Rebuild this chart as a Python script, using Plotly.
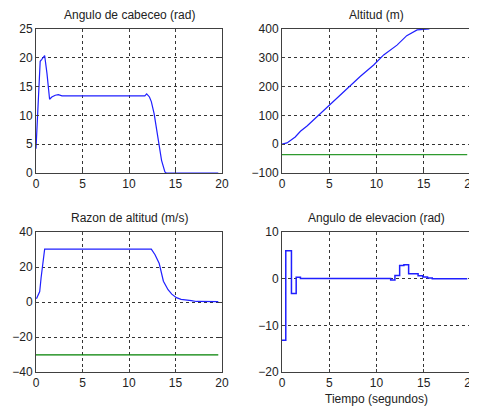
import plotly.graph_objects as go

# ---- data ----
t_pitch = [0, 0.05, 0.1, 0.2, 0.35, 0.45, 0.6, 0.75, 0.93, 1.18, 1.46, 1.7, 2.07, 2.4, 2.8,
           11.7, 11.9, 12.2, 12.4, 12.7, 12.96, 13.25, 13.5, 13.86, 14.0, 19.6]
pitch = [4.2, 6.0, 8.6, 12.8, 16.7, 19.4, 19.7, 20.0, 20.4, 17.3, 12.8, 13.2, 13.5, 13.6, 13.4,
         13.4, 13.75, 13.2, 12.4, 10.3, 7.4, 4.5, 2.2, 0.2, 0.0, 0.0]

t_alt = [0, 0.53, 1.4, 1.95, 2.65, 3.5, 4.94, 6.17, 7.2, 8.3, 9.7, 10.76, 12.17, 13.2, 14.3, 14.8, 15.6]
alt = [0, 4.6, 25, 45, 63, 89, 130, 170, 202, 236, 275, 310, 344, 377, 397, 399, 400]
t_alt_ref = [0, 19.6]
alt_ref = [-36, -36]

t_rate = [0.05, 0.4, 0.55, 0.68, 0.93, 12.4, 12.8, 13.25, 13.7, 14.2, 14.6, 15.1, 15.6, 16.7, 17.25, 19.6]
rate = [1.9, 6.0, 14.0, 20.0, 30.2, 30.2, 27.0, 22.0, 11.9, 7.0, 4.5, 2.5, 1.5, 0.8, 0.3, 0.2]
t_rate_ref = [0, 19.6]
rate_ref = [-30.2, -30.2]

t_elev = [0, 0.4, 1.0, 1.5, 1.95, 11.5, 11.95, 12.45, 12.9, 13.4, 14.4, 14.9, 15.4, 15.9, 19.6]
elev = [-13.2, 6.0, -3.2, 0.3, 0.05, -0.3, 0.7, 2.8, 3.0, 1.05, 0.63, 0.35, 0.14, 0.0, 0.0]

titles = ["Angulo de cabeceo (rad)", "Altitud (m)", "Razon de altitud (m/s)", "Angulo de elevacion (rad)"]
xlabel = "Tiempo (segundos)"
x_ticks = [0, 5, 10, 15, 20]
y_ticks = [[0, 5, 10, 15, 20, 25], [-100, 0, 100, 200, 300, 400], [-40, -20, 0, 20, 40], [-20, -10, 0, 10]]

OFF = 8  # default body margin of the html page
W, H = 477 - OFF, 411 - OFF
BLUE = "#1f1fff"
FONT = "Liberation Sans, Arial, sans-serif"

fig = go.Figure()
fig.add_trace(go.Scatter(x=t_pitch, y=pitch, mode="lines", line=dict(color=BLUE, width=1.2), xaxis="x", yaxis="y"))
fig.add_trace(go.Scatter(x=t_alt_ref, y=alt_ref, mode="lines", line=dict(color="#2e9a2e", width=1.2), xaxis="x2", yaxis="y2"))
fig.add_trace(go.Scatter(x=t_alt, y=alt, mode="lines", line=dict(color=BLUE, width=1.2), xaxis="x2", yaxis="y2"))
fig.add_trace(go.Scatter(x=t_rate_ref, y=rate_ref, mode="lines", line=dict(color="#008000", width=1.2), xaxis="x3", yaxis="y3"))
fig.add_trace(go.Scatter(x=t_rate, y=rate, mode="lines", line=dict(color=BLUE, width=1.2), xaxis="x3", yaxis="y3"))
fig.add_trace(go.Scatter(x=t_elev, y=elev, mode="lines", line=dict(color=BLUE, width=1.5, shape="hv"), xaxis="x4", yaxis="y4"))

# pixel boxes in page coords: (left, right, top, bottom)
boxes = [(36, 222, 29, 173), (282, 471, 29, 173), (36, 222, 232, 372), (282, 471, 232, 372)]

axcommon = dict(showline=True, linecolor="#404040", linewidth=1, mirror="ticks",
                ticks="inside", ticklen=3, tickcolor="#404040", automargin=False,
                ticklabeloverflow="allow",
                showgrid=True, gridcolor="#333333", gridwidth=1, griddash="dot",
                zeroline=False, tickfont=dict(family=FONT, size=12, color="#222222"))

layout = dict(width=W, height=H, margin=dict(l=0, r=0, t=0, b=0),
              paper_bgcolor="white", plot_bgcolor="white", showlegend=False)
yranges = [[0, 25], [-100, 400], [-40, 40], [-20, 10]]
annotations = []


def px(xp):
    return (xp - OFF) / W


def py(yp):
    return 1 - (yp - OFF) / H


for i, (l, r, t, b) in enumerate(boxes):
    sfx = "" if i == 0 else str(i + 1)
    layout["xaxis" + sfx] = dict(axcommon, domain=[px(l), min(px(r), 1)], range=[0, 20], tickvals=x_ticks,
                                 anchor="y" + sfx)
    layout["yaxis" + sfx] = dict(axcommon, domain=[py(b), py(t)], range=yranges[i],
                                 tickvals=y_ticks[i], anchor="x" + sfx)
    annotations.append(dict(text=titles[i], x=px((l + r) / 2), y=py(t - 14), xref="paper", yref="paper",
                            showarrow=False, xanchor="center", yanchor="middle",
                            font=dict(family=FONT, size=12, color="#222222")))
annotations.append(dict(text=xlabel, x=px(376.5), y=py(399), xref="paper", yref="paper",
                        showarrow=False, xanchor="center", yanchor="middle",
                        font=dict(family=FONT, size=12, color="#222222")))
layout["annotations"] = annotations
fig.update_layout(**layout)
fig.write_html("out.html")
